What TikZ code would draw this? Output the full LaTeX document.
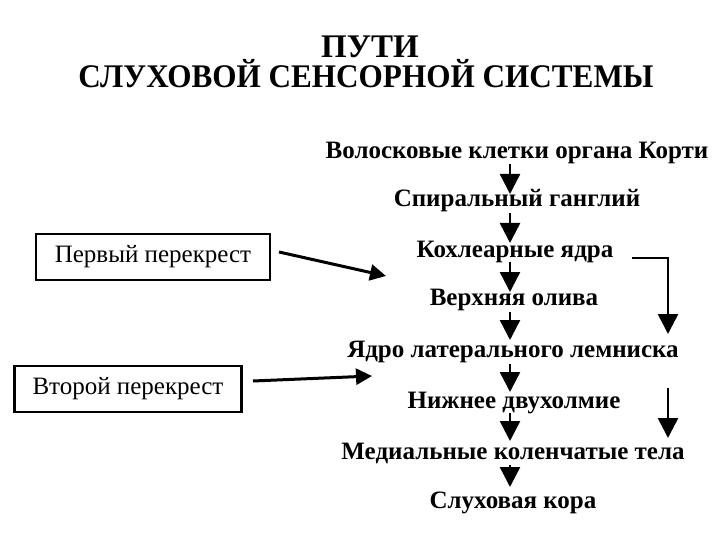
\documentclass[tikz,border=0pt]{standalone}
\usepackage{fontspec}
\setmainfont{Liberation Serif}
\usetikzlibrary{arrows.meta}
\tikzset{
  lvl/.style={font=\fontsize{25}{28}\selectfont\bfseries, inner sep=0pt, anchor=center},
  side/.style={draw, line width=2.5pt, font=\fontsize{25}{28}\selectfont, minimum height=46pt, inner sep=0pt},
  flow/.style={line width=2.5pt, -{Triangle[width=20pt,length=20pt]}},
  thin/.style={line width=3pt, -{Triangle[width=16pt,length=16pt]}},
  ttl/.style={font=\fontsize{33}{30}\selectfont\bfseries, inner sep=0pt, align=center, anchor=base}
}
\begin{document}
\begin{tikzpicture}[x=1pt,y=-1pt]
\useasboundingbox[fill=white] (0,0) rectangle (720,540);
\node[ttl] (t) at (366,88) {\hspace*{8pt}ПУТИ\\\scalebox{0.945}[1]{СЛУХОВОЙ СЕНСОРНОЙ СИСТЕМЫ}};

\node[lvl] (a) at (517,153) {Волосковые клетки органа Корти};
\node[lvl] (b) at (517,201) {Спиральный ганглий};
\node[lvl] (c) at (515,252) {Кохлеарные ядра};
\node[lvl] (d) at (514,300) {Верхняя олива};
\node[lvl] (e) at (513,352) {Ядро латерального лемниска};
\node[lvl] (f) at (514,403) {Нижнее двухолмие};
\node[lvl] (g) at (513,453) {Медиальные коленчатые тела};
\node[lvl] (h) at (513,503) {Слуховая кора};

\coordinate (a1) at (510,164); \coordinate (b0) at (510,194);
\coordinate (b1) at (510,213); \coordinate (c0) at (510,243);
\coordinate (c1) at (510,262); \coordinate (d0) at (510,292);
\coordinate (d1) at (510,312); \coordinate (e0) at (510,340);
\coordinate (e1) at (510,364); \coordinate (f0) at (510,392);
\coordinate (f1) at (510,413); \coordinate (g0) at (510,441);
\coordinate (g1) at (510,465); \coordinate (h0) at (510,487);
\draw[flow] (a1) -- (b0);
\draw[flow] (b1) -- (c0);
\draw[flow] (c1) -- (d0);
\draw[flow] (d1) -- (e0);
\draw[flow] (e1) -- (f0);
\draw[flow] (f1) -- (g0);
\draw[flow] (g1) -- (h0);

\coordinate (r0) at (632,258); \coordinate (r1) at (668,334);
\draw[flow] (r0) -| (r1);
\coordinate (s0) at (668,388); \coordinate (s1) at (668,438);
\draw[flow] (s0) -- (s1);

\node[side, minimum width=234pt] (p1) at (153,257) {Первый перекрест};
\node[side, minimum width=227pt] (p2) at (128,389) {Второй перекрест};
\coordinate (p1e) at (386,276);
\coordinate (p2e) at (372,376);
\draw[thin] (279,252) -- (p1e);
\draw[thin] (253,381) -- (p2e);
\end{tikzpicture}
\end{document}
